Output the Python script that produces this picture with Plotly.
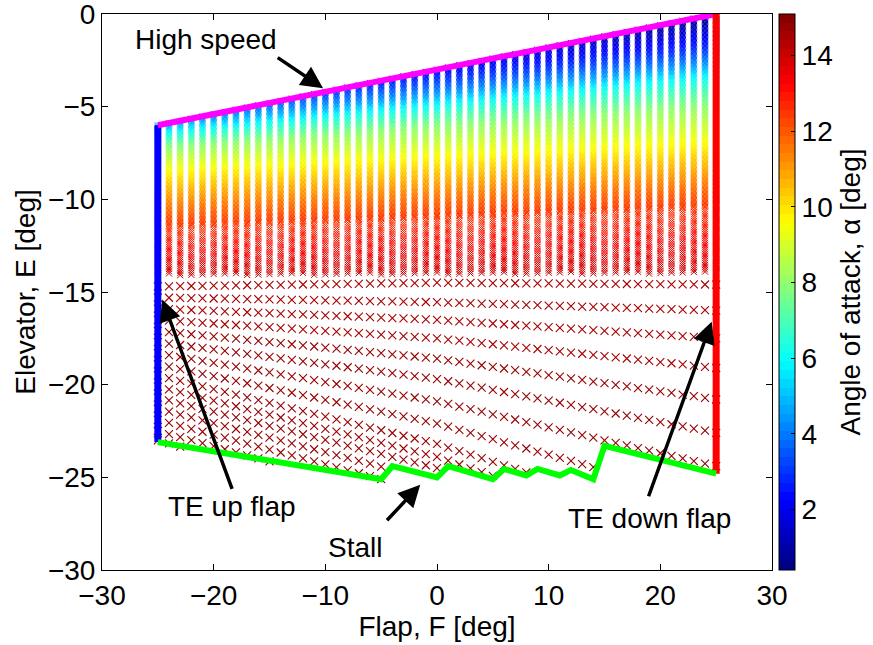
import numpy as np
import plotly.graph_objects as go

# ---------------------------------------------------------------- data
# flap settings of the trim sweep (one column of trim points per setting)
FLAP = list(range(-25, 26))

# high speed boundary: elevator at the top of every flap column
HIGH_SPEED_E = [-6.00, -5.88, -5.76, -5.64, -5.52, -5.40, -5.28, -5.16, -5.04,
                -4.92, -4.80, -4.68, -4.56, -4.44, -4.32, -4.20, -4.08, -3.96,
                -3.84, -3.72, -3.60, -3.48, -3.36, -3.24, -3.12, -3.00, -2.88,
                -2.76, -2.64, -2.52, -2.40, -2.28, -2.16, -2.04, -1.92, -1.80,
                -1.68, -1.56, -1.44, -1.32, -1.20, -1.08, -0.96, -0.84, -0.72,
                -0.60, -0.48, -0.36, -0.24, -0.12, 0.00]

# stall boundary (flap, elevator) vertices
STALL_F = [-25, -5, -4, 0, 1, 5, 6, 8, 9, 11, 12, 14, 15, 25]
STALL_E = [-23.1, -25.1, -24.4, -25.0, -24.4, -25.1, -24.55, -24.9, -24.55,
           -24.9, -24.6, -25.1, -23.3, -24.8]

# trailing-edge flap limits
TE_UP_F, TE_UP_E = [-25, -25], [-6.0, -23.1]
TE_DOWN_F, TE_DOWN_E = [25, 25], [0.0, -24.8]

# angle of attack along a column: elevator reached at each alpha level,
# for the fully-up (F=-25) and fully-down (F=+25) flap columns
ALPHA_LEVELS = [0.4, 1.0, 3.0, 4.5, 6.0, 8.0, 9.7, 11.5, 12.5, 14.0]
E_AT_ALPHA_UP = [-3.8, -4.2, -5.3, -6.0, -6.5, -7.3, -8.6, -10.4, -11.5, -14.1]
E_AT_ALPHA_DOWN = [0.0, -0.4, -1.9, -2.7, -3.4, -5.0, -7.1, -9.2, -10.4, -14.0]

# low speed trim rows (elevator at F=-25, F=0, F=+25) and their alpha
ROW_E_UP = [-14.7, -15.3, -15.9, -16.5, -17.1, -17.7, -18.3, -18.9, -19.5,
            -20.1, -20.7, -21.3, -21.9, -22.5, -23.0]
ROW_E_MID = [-14.5, -15.55, -16.5, -17.5, -18.6, -19.7, -20.9, -22.1, -23.2,
             -23.9, -24.5, -25.2, -25.9, -26.6, -27.3]
ROW_E_DOWN = [-14.6, -16.0, -17.5, -19.1, -20.8, -22.6, -24.4, -26.3, -28.0,
              -29.0, -30.0, -31.0, -32.0, -33.0, -34.0]
ROW_ALPHA = [14.5, 14.55, 14.6, 14.6, 14.65, 14.65, 14.7, 14.7, 14.75, 14.75,
             14.8, 14.8, 14.85, 14.85, 14.9]

ALPHA_MIN, ALPHA_MAX = 0.4, 15.1

# ---------------------------------------------------------------- trim points
dense_f, dense_e, dense_a = [], [], []
low_f, low_e, low_a = [], [], []
a_lv = np.array(ALPHA_LEVELS)
e_up, e_dn = np.array(E_AT_ALPHA_UP), np.array(E_AT_ALPHA_DOWN)
for f, e_top in zip(FLAP, HIGH_SPEED_E):
    w = (f - FLAP[0]) / (FLAP[-1] - FLAP[0])
    e_lv = e_up + (e_dn - e_up) * w
    e_red = np.interp(12.5, a_lv, e_lv)
    e_bot = e_lv[-1]
    col = np.concatenate([np.arange(e_top, e_red, -0.07),
                          np.arange(e_red, e_bot - 1e-9, -0.12)])
    alpha = np.interp(-col, -e_lv, a_lv)
    dense_f += [f] * len(col)
    dense_e += list(col)
    dense_a += list(alpha)

    e_stall = np.interp(f, STALL_F, STALL_E)
    for eu, em, ed, ra in zip(ROW_E_UP, ROW_E_MID, ROW_E_DOWN, ROW_ALPHA):
        e = np.interp(f, [-25, 0, 25], [eu, em, ed])
        if e >= e_stall - 0.05:
            low_f.append(f)
            low_e.append(e)
            low_a.append(ra)


def jet(n=64):
    """MATLAB-style jet colormap as a stepped Plotly colorscale."""
    scale = []
    for i in range(n):
        x = (i + 0.5) / n
        r = np.clip(1.5 - abs(4 * x - 3), 0, 1)
        g = np.clip(1.5 - abs(4 * x - 2), 0, 1)
        b = np.clip(1.5 - abs(4 * x - 1), 0, 1)
        c = f"rgb({int(r*255)},{int(g*255)},{int(b*255)})"
        scale.append([i / n, c])
        scale.append([(i + 1) / n, c])
    return scale


JET = jet()
FONT = "Liberation Sans, Arial, Helvetica, sans-serif"
FS = 28


def x_markers(size, width, values, bar=False):
    m = dict(symbol="x-thin", size=size,
             color=values, colorscale=JET, cmin=ALPHA_MIN, cmax=ALPHA_MAX,
             line=dict(width=width, color=values, colorscale=JET,
                       cmin=ALPHA_MIN, cmax=ALPHA_MAX))
    if bar:
        m["showscale"] = True
        m["colorbar"] = dict(
            x=1.0104, xanchor="left", xpad=0, y=0.5, yanchor="middle", ypad=0,
            len=1, lenmode="fraction", thickness=16,
            outlinewidth=1, outlinecolor="black",
            tickvals=[2, 4, 6, 8, 10, 12, 14],
            ticks="inside", ticklen=4, tickcolor="black",
            tickfont=dict(family=FONT, size=FS, color="black"),
            title=dict(text="Angle of attack, α [deg]", side="right",
                       font=dict(family=FONT, size=FS, color="black")),
        )
    return m


fig = go.Figure()
fig.add_trace(go.Scatter(x=dense_f, y=dense_e, mode="markers",
                         hoverinfo="skip", showlegend=False,
                         marker=x_markers(6, 1.0, dense_a, bar=True)))
fig.add_trace(go.Scatter(x=low_f, y=low_e, mode="markers",
                         hoverinfo="skip", showlegend=False,
                         marker=x_markers(8, 1.1, low_a)))

# boundary lines
for xs, ys, colr, wd in [(TE_UP_F, TE_UP_E, "#0000ff", 7),
                         (FLAP, HIGH_SPEED_E, "#ff00ff", 6),
                         (TE_DOWN_F, TE_DOWN_E, "#ff0000", 7),
                         (STALL_F, STALL_E, "#00ff00", 6)]:
    fig.add_trace(go.Scatter(x=xs, y=ys, mode="lines", hoverinfo="skip",
                             showlegend=False,
                             line=dict(color=colr, width=wd)))

# labels with arrows: (text, text position, arrow tail, arrow head)
LABELS = [
    ("High speed", (-20.7, -1.4), (-14.4, -2.3), (-10.2, -4.0)),
    ("TE up flap", (-18.4, -26.6), (-18.3, -25.7), (-24.6, -15.4)),
    ("Stall", (-7.3, -28.8), (-4.6, -27.4), (-1.5, -25.4)),
    ("TE down flap", (19.0, -27.2), (18.9, -26.1), (24.6, -16.6)),
]
for txt, (tx, ty), (ax, ay), (hx, hy) in LABELS:
    fig.add_annotation(x=hx, y=hy, ax=ax, ay=ay, xref="x", yref="y",
                       axref="x", ayref="y", text="", showarrow=True,
                       arrowhead=2, arrowsize=1.25, arrowwidth=3.5,
                       arrowcolor="black", standoff=0, startstandoff=0)
    fig.add_annotation(x=tx, y=ty, xref="x", yref="y", text=txt,
                       showarrow=False,
                       font=dict(family=FONT, size=FS, color="black"))

axis_common = dict(
    showline=True, linecolor="black", linewidth=1, mirror="ticks",
    ticks="inside", ticklen=6, tickcolor="black", showgrid=False,
    zeroline=False, automargin=False, ticklabeloverflow="allow",
    tickfont=dict(family=FONT, size=FS, color="black"),
)
fig.update_xaxes(range=[-30, 30], tickvals=[-30, -20, -10, 0, 10, 20, 30],
                 title=dict(text="Flap, F [deg]", standoff=2,
                            font=dict(family=FONT, size=FS, color="black")),
                 **axis_common)
fig.update_yaxes(range=[-30, 0], tickvals=[-30, -25, -20, -15, -10, -5, 0],
                 title=dict(text="Elevator, E [deg]", standoff=4,
                            font=dict(family=FONT, size=FS, color="black")),
                 **axis_common)

fig.update_layout(
    width=873, height=645,
    margin=dict(l=102, r=101, t=14, b=75, autoexpand=False),
    paper_bgcolor="white", plot_bgcolor="white",
    font=dict(family=FONT, size=FS, color="black"),
)

fig.write_html("out.html")
